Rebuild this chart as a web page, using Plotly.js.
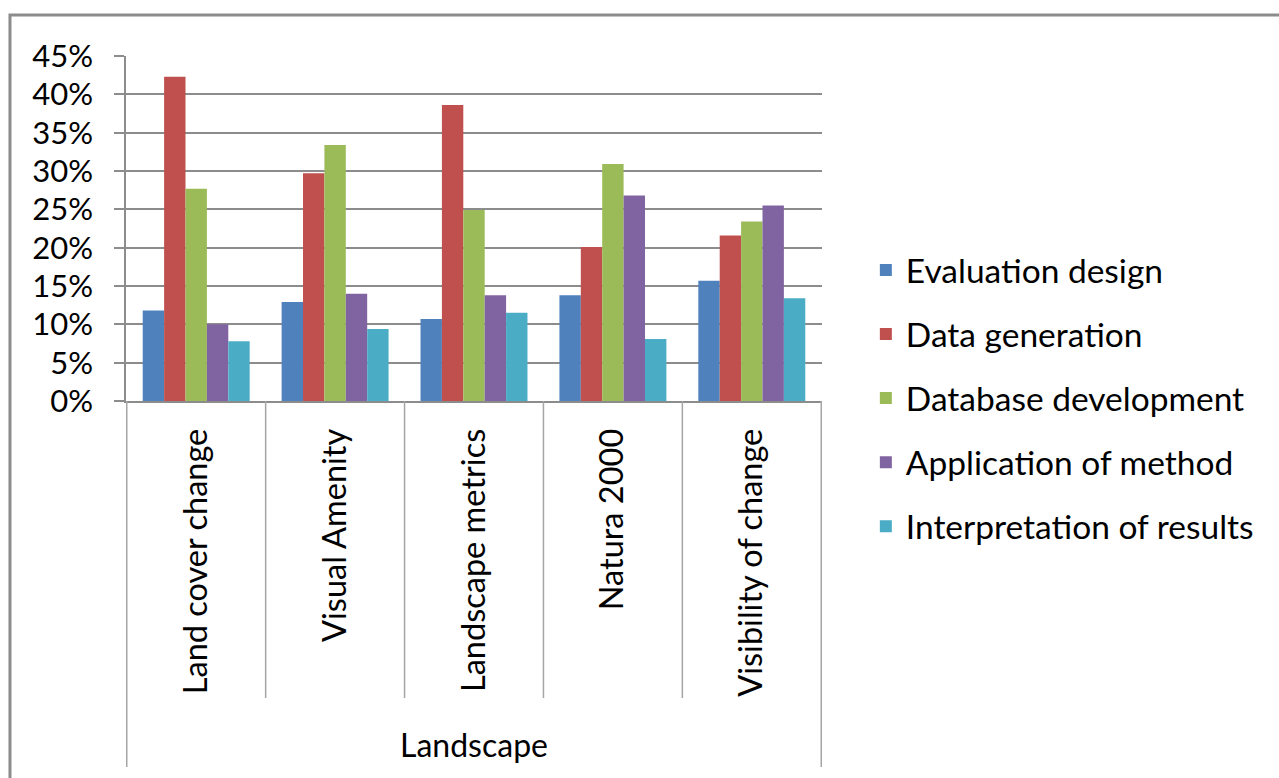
<!DOCTYPE html>
<html>
<head>
<meta charset="utf-8">
<script src="https://cdn.plot.ly/plotly-3.0.1.min.js"></script>
<style>
html,body{margin:0;padding:0;background:#fff;}
#chart{width:1279px;height:778px;}
</style>
</head>
<body>
<div id="chart"></div>
<script>
var categories = ["Land cover change", "Visual Amenity", "Landscape metrics", "Natura 2000", "Visibility of change"];
var seriesNames = ["Evaluation design", "Data generation", "Database development", "Application of method", "Interpretation of results"];
var evaluationDesign = [11.8, 12.9, 10.7, 13.8, 15.7];
var dataGeneration = [42.3, 29.7, 38.6, 20.1, 21.6];
var databaseDevelopment = [27.7, 33.4, 24.9, 30.9, 23.4];
var applicationOfMethod = [10.0, 14.0, 13.8, 26.8, 25.5];
var interpretationOfResults = [7.8, 9.4, 11.5, 8.1, 13.4];
var yTickVals = [0, 5, 10, 15, 20, 25, 30, 35, 40, 45];
var yTickText = ["0%", "5%", "10%", "15%", "20%", "25%", "30%", "35%", "40%", "45%"];
var groupLabel = "Landscape";

var seriesValues = [evaluationDesign, dataGeneration, databaseDevelopment, applicationOfMethod, interpretationOfResults];
var colors = ["#4F81BD", "#C0504D", "#9BBB59", "#8064A2", "#4BACC6"];
var FONT = "Lato, 'Open Sans', sans-serif";

var traces = seriesNames.map(function(name, i){
  return {
    type: "bar",
    name: name,
    x: categories,
    y: seriesValues[i],
    marker: {color: colors[i]},
    legendgroup: "g" + i,
    hovertemplate: "%{x}<br>" + name + ": %{y}%<extra></extra>"
  };
});

// category divider lines below the axis (Excel multi-level axis style)
var shapes = [];
for (var i = 0; i <= categories.length; i++) {
  var outer = (i === 0 || i === categories.length);
  shapes.push({
    type: "line", xref: "x", yref: "paper",
    x0: i - 0.5, x1: i - 0.5, y0: 0, y1: outer ? -1.061 : -0.861,
    line: {color: "#a6a6a6", width: 1.5}
  });
}
// chart frame
shapes.push({
  type: "rect", xref: "paper", yref: "paper",
  x0: -0.1667, x1: 1.75, y0: -1.3, y1: 1.1188,
  line: {color: "#8c8c8c", width: 3}, layer: "below"
});

var layout = {
  width: 1279, height: 778,
  margin: {l: 126, r: 457, t: 56, b: 377, pad: 0},
  paper_bgcolor: "#ffffff", plot_bgcolor: "#ffffff",
  font: {family: FONT, color: "#000000", size: 31},
  barmode: "group",
  bargap: 0.23,
  bargroupgap: 0,
  showlegend: true,
  legend: {
    x: 1.063, xanchor: "left", y: 0.008, yanchor: "middle",
    font: {family: FONT, size: 33.5, color: "#000"},
    traceorder: "grouped",
    tracegroupgap: 17.5,
    bgcolor: "rgba(0,0,0,0)"
  },
  xaxis: {
    type: "category",
    automargin: false,
    tickangle: -90,
    ticks: "",
    ticklabelstandoff: 13,
    showgrid: false,
    showline: true,
    linecolor: "#8c8c8c",
    linewidth: 1.5,
    tickfont: {family: FONT, size: 32.5, color: "#000"},
    title: {text: groupLabel, font: {family: FONT, size: 32, color: "#000"}, standoff: 39}
  },
  yaxis: {
    automargin: false,
    range: [0, 45],
    tickmode: "array",
    tickvals: yTickVals,
    ticktext: yTickText,
    ticks: "outside",
    ticklen: 10,
    tickcolor: "#8c8c8c",
    tickwidth: 1.5,
    ticklabelstandoff: 15,
    showline: true,
    linecolor: "#8c8c8c",
    linewidth: 1.5,
    showgrid: true,
    gridcolor: "#8c8c8c",
    gridwidth: 1.5,
    zeroline: false,
    tickfont: {family: FONT, size: 31, color: "#000"}
  },
  shapes: shapes
};

Plotly.newPlot("chart", traces, layout, {displayModeBar: false});
</script>
</body>
</html>
